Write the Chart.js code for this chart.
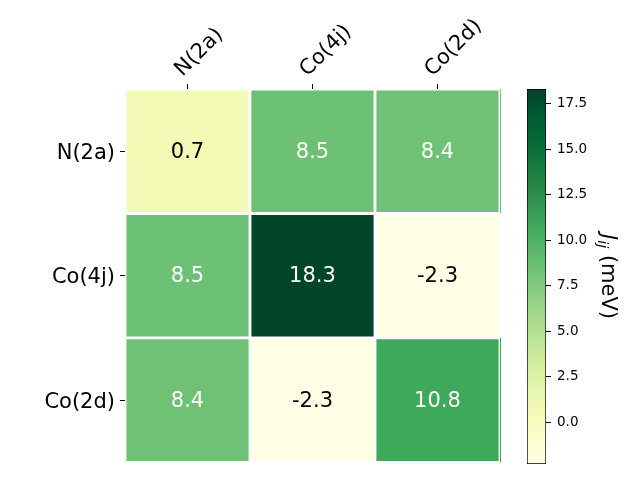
<!DOCTYPE html>
<html>
<head>
<meta charset="utf-8">
<script src="https://cdn.jsdelivr.net/npm/chart.js@4"></script>
<style>
  html, body { margin: 0; padding: 0; background: #fff; }
  #wrap { position: relative; width: 640px; height: 480px; }
  #heat { position: absolute; left: 0; top: 0; }
  #cbar { position: absolute; left: 500px; top: 0; }
</style>
</head>
<body>
<div id="wrap">
  <canvas id="heat" width="640" height="480"></canvas>
  <canvas id="cbar" width="140" height="480"></canvas>
</div>
<script>
const sites = ['N(2a)', 'Co(4j)', 'Co(2d)'];
const rowN2a = [0.7, 8.5, 8.4];
const rowCo4j = [8.5, 18.3, -2.3];
const rowCo2d = [8.4, -2.3, 10.8];
const cbarTicks = [0, 2.5, 5, 7.5, 10, 12.5, 15, 17.5];

const rows = [rowN2a, rowCo4j, rowCo2d];
const vmin = Math.min(...rows.flat());
const vmax = Math.max(...rows.flat());

// matplotlib YlGn
const ylgn = ['#ffffe5', '#f7fcb9', '#d9f0a3', '#addd8e', '#78c679', '#41ab5d', '#238443', '#006837', '#004529'];

function hexRgb(h) {
  return [1, 3, 5].map((k) => parseInt(h.slice(k, k + 2), 16));
}

function cmap(v) {
  let t = (v - vmin) / (vmax - vmin);
  t = Math.max(0, Math.min(1, t)) * (ylgn.length - 1);
  const i = Math.min(Math.floor(t), ylgn.length - 2);
  const f = t - i;
  const a = hexRgb(ylgn[i]);
  const b = hexRgb(ylgn[i + 1]);
  const c = a.map((x, k) => Math.round(x + (b[k] - x) * f));
  return `rgb(${c[0]},${c[1]},${c[2]})`;
}

const FONT = 'DejaVu Sans';
const BIG = 21;
Chart.defaults.font.family = FONT;
Chart.defaults.color = '#000';

const cellText = {
  id: 'cellText',
  afterDatasetsDraw(chart) {
    const { ctx, scales, chartArea } = chart;
    ctx.save();
    ctx.font = `${BIG}px "${FONT}"`;
    ctx.textAlign = 'center';
    ctx.textBaseline = 'middle';
    rows.forEach((row, i) => {
      row.forEach((v, j) => {
        ctx.fillStyle = v > (vmin + vmax) / 2 ? '#fff' : '#000';
        ctx.fillText(v.toFixed(1), scales.x.getPixelForValue(j), scales.y.getPixelForValue(i) + 1);
      });
      // thin edge of the last column, as in the original
      const last = row.length - 1;
      ctx.strokeStyle = cmap(row[last]);
      ctx.lineWidth = 1;
      ctx.beginPath();
      ctx.moveTo(chartArea.right + 0.5, scales.y.getPixelForValue(i - 0.5));
      ctx.lineTo(chartArea.right + 0.5, scales.y.getPixelForValue(i + 0.5));
      ctx.stroke();
    });
    ctx.restore();
  },
};

new Chart(document.getElementById('heat'), {
  type: 'bar',
  data: {
    labels: sites,
    datasets: rows.map((row, i) => ({
      data: row.map(() => [i - 0.5, i + 0.5]),
      backgroundColor: row.map(cmap),
      borderColor: '#fff',
      borderWidth: 1.75,
      borderSkipped: false,
      barPercentage: 1,
      categoryPercentage: 1,
      grouped: false,
    })),
  },
  options: {
    responsive: false,
    animation: false,
    layout: { padding: { left: 0, top: 0, right: 140, bottom: 16 } },
    plugins: { legend: { display: false }, tooltip: { enabled: false } },
    scales: {
      x: {
        position: 'top',
        offset: true,
        grid: { offset: false, drawOnChartArea: false, drawTicks: true, tickLength: 5, color: '#000' },
        border: { display: false },
        ticks: { minRotation: 45, maxRotation: 45, padding: 2, labelOffset: 9, font: { size: BIG }, autoSkip: false },
        afterFit: (s) => { s.height = 89; },
      },
      y: {
        type: 'linear',
        reverse: true,
        min: -0.5,
        max: 2.5,
        grid: { drawOnChartArea: false, drawTicks: true, tickLength: 5, color: '#000' },
        border: { display: false },
        afterBuildTicks: (s) => { s.ticks = sites.map((_, i) => ({ value: i })); },
        ticks: { padding: 5, labelOffset: 2, font: { size: BIG }, callback: (v) => sites[v] },
        afterFit: (s) => { s.width = 125; },
      },
    },
  },
  plugins: [cellText],
});

const cbarTitle = {
  id: 'cbarTitle',
  afterDraw(chart) {
    const { ctx, chartArea } = chart;
    const cy = (chartArea.top + chartArea.bottom) / 2;
    ctx.save();
    ctx.translate(102, cy);
    ctx.rotate(Math.PI / 2);
    ctx.fillStyle = '#000';
    ctx.textBaseline = 'alphabetic';
    const big = `${BIG}px "${FONT}"`;
    const itBig = `italic ${BIG}px "${FONT}"`;
    const itSmall = `italic 14.5px "${FONT}"`;
    const rest = ' (meV)';
    ctx.font = itBig;
    const wJ = ctx.measureText('J').width;
    ctx.font = itSmall;
    const wIj = ctx.measureText('ij').width;
    ctx.font = big;
    const wRest = ctx.measureText(rest).width;
    let x = -(wJ + wIj + wRest) / 2;
    ctx.font = itBig;
    ctx.fillText('J', x, 0);
    x += wJ;
    ctx.font = itSmall;
    ctx.fillText('ij', x, 4);
    x += wIj;
    ctx.font = big;
    ctx.fillText(rest, x, 0);
    ctx.restore();
  },
};

new Chart(document.getElementById('cbar'), {
  type: 'bar',
  data: {
    labels: [''],
    datasets: [{
      data: [[vmin, vmax]],
      backgroundColor(c) {
        const area = c.chart.chartArea;
        if (!area) return ylgn[0];
        const g = c.chart.ctx.createLinearGradient(0, area.bottom, 0, area.top);
        ylgn.forEach((col, k) => g.addColorStop(k / (ylgn.length - 1), col));
        return g;
      },
      borderColor: '#000',
      borderWidth: 1,
      borderSkipped: false,
      barPercentage: 1,
      categoryPercentage: 1,
    }],
  },
  options: {
    responsive: false,
    animation: false,
    layout: { padding: { left: 27, top: 89, right: 0, bottom: 16 } },
    plugins: { legend: { display: false }, tooltip: { enabled: false } },
    scales: {
      x: { display: false },
      y: {
        position: 'right',
        min: vmin,
        max: vmax,
        grid: { drawOnChartArea: false, drawTicks: true, tickLength: 5, color: '#000' },
        border: { display: false },
        afterBuildTicks: (s) => { s.ticks = cbarTicks.map((v) => ({ value: v })); },
        ticks: { padding: 6, font: { size: 13.5 }, callback: (v) => v.toFixed(1) },
        afterFit: (s) => { s.width = 94; },
      },
    },
  },
  plugins: [cbarTitle],
});
</script>
</body>
</html>
